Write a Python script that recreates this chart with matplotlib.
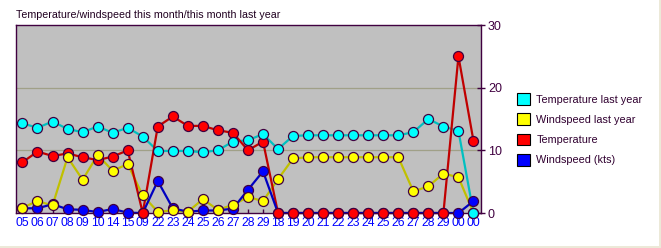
import matplotlib
matplotlib.use("Agg")
import matplotlib.pyplot as plt
from matplotlib.patches import Rectangle, Patch

labels = ["05", "06", "07", "08", "09", "10", "14", "15", "09", "22", "23", "24", "25", "26",
          "27", "28", "29", "18", "19", "20", "21", "22", "23", "24", "25", "26", "27", "28",
          "29", "00", "00"]

temp_last_year = [14.3, 13.6, 14.6, 13.4, 12.9, 13.8, 12.8, 13.6, 12.2, 9.9, 9.9, 9.9, 9.7, 10.0,
                  11.4, 11.6, 12.6, 10.2, 12.3, 12.4, 12.4, 12.4, 12.4, 12.4, 12.4, 12.4, 12.9,
                  15.0, 13.8, 13.1, 0.0]
wind_last_year = [0.85, 1.9, 1.2, 8.9, 5.3, 9.25, 6.75, 7.8, 2.8, 0.2, 0.4, 0.2, 2.2, 0.5,
                  1.3, 2.55, 1.9, 5.4, 8.7, 8.9, 8.9, 8.9, 8.9, 8.9, 8.9, 8.9, 3.45,
                  4.25, 6.3, 5.7, 0.0]
temperature = [8.1, 9.8, 9.1, 9.5, 8.9, 8.45, 9.0, 10.0, 0.0, 13.8, 15.4, 13.9, 13.9, 13.2,
               12.8, 10.0, 11.4, 0.0, 0.0, 0.0, 0.0, 0.0, 0.0, 0.0, 0.0, 0.0, 0.0,
               0.0, 0.0, 25.0, 11.5]
windspeed = [0.75, 0.75, 1.4, 0.6, 0.5, 0.15, 0.65, 0.05, 0.0, 5.1, 0.75, 0.2, 0.4, 0.4,
             0.7, 3.7, 6.65, 0.0, 0.0, 0.0, 0.0, 0.0, 0.0, 0.0, 0.0, 0.0, 0.0,
             0.0, 0.0, 0.0, 1.9]

series_names = ["Temperature last year", "Windspeed last year", "Temperature", "Windspeed (kts)"]

plt.rcParams["font.family"] = ["Liberation Sans", "DejaVu Sans"]

W, H = 661, 248
fig = plt.figure(figsize=(W / 100, H / 100), dpi=100)
fig.patch.set_facecolor("white")
# beige strips at right and bottom edge
fig.patches.append(Rectangle((659 / W, 0), 2 / W, 1, transform=fig.transFigure,
                             facecolor="#ECE9D8", edgecolor="none", zorder=0))
fig.patches.append(Rectangle((0, 0), 1, 2 / H, transform=fig.transFigure,
                             facecolor="#ECE9D8", edgecolor="none", zorder=0))

left, right, top, bottom = 16, 481, 25, 213
ax = fig.add_axes([left / W, (H - bottom) / H, (right - left) / W, (bottom - top) / H])
ax.set_facecolor("#C0C0C0")

x = list(range(len(labels)))
edge = "#400040"

styles = [
    (temp_last_year, "#00C0C0", "#00FFFF", 6),
    (wind_last_year, "#C0C000", "#FFFF00", 5),
    (temperature, "#C00000", "#FF0000", 4),
    (windspeed, "#0000C0", "#0000FF", 3),
]
for vals, lc, mc, z in styles:
    ax.plot(x, vals, color=lc, lw=1.6, zorder=2, clip_on=False)
for vals, lc, mc, z in styles:
    ax.plot(x, vals, ls="none", marker="o", ms=7.2, markerfacecolor=mc,
            markeredgecolor=edge, markeredgewidth=0.9, zorder=z, clip_on=False)

ax.set_xlim(-0.43, 30.5)
ax.set_ylim(0, 30)
ax.set_yticks([0, 10, 20, 30])
ax.yaxis.tick_right()
ax.set_xticks(x)
ax.set_xticklabels(labels)

for yv in (10, 20):
    ax.axhline(yv, color="#A0A088", lw=0.9, zorder=1)

for s in ax.spines.values():
    s.set_color(edge)
    s.set_linewidth(1.0)
ax.tick_params(axis="y", direction="inout", length=6, width=1, color=edge,
               labelcolor=edge, labelsize=9, pad=2)
ax.tick_params(axis="x", direction="in", length=3, width=1, color=edge,
               labelcolor="#0000FF", labelsize=8.7, pad=3)

fig.text(left / W, (H - 15) / H, "Temperature/windspeed this month/this month last year",
         fontsize=7.7, color="#200020", ha="left", va="center")

handles = [Patch(facecolor=c, edgecolor="black", linewidth=0.8) for c in
           ["#00FFFF", "#FFFF00", "#FF0000", "#0000FF"]]
leg = fig.legend(handles, series_names, loc="upper left",
                 bbox_to_anchor=(513 / W, (H - 89) / H), frameon=False,
                 fontsize=7.8, handlelength=1.2, handleheight=1.3,
                 labelspacing=0.77, handletextpad=0.55, borderaxespad=0)
for t in leg.get_texts():
    t.set_color("#300030")

fig.savefig("out.png", dpi=100)
